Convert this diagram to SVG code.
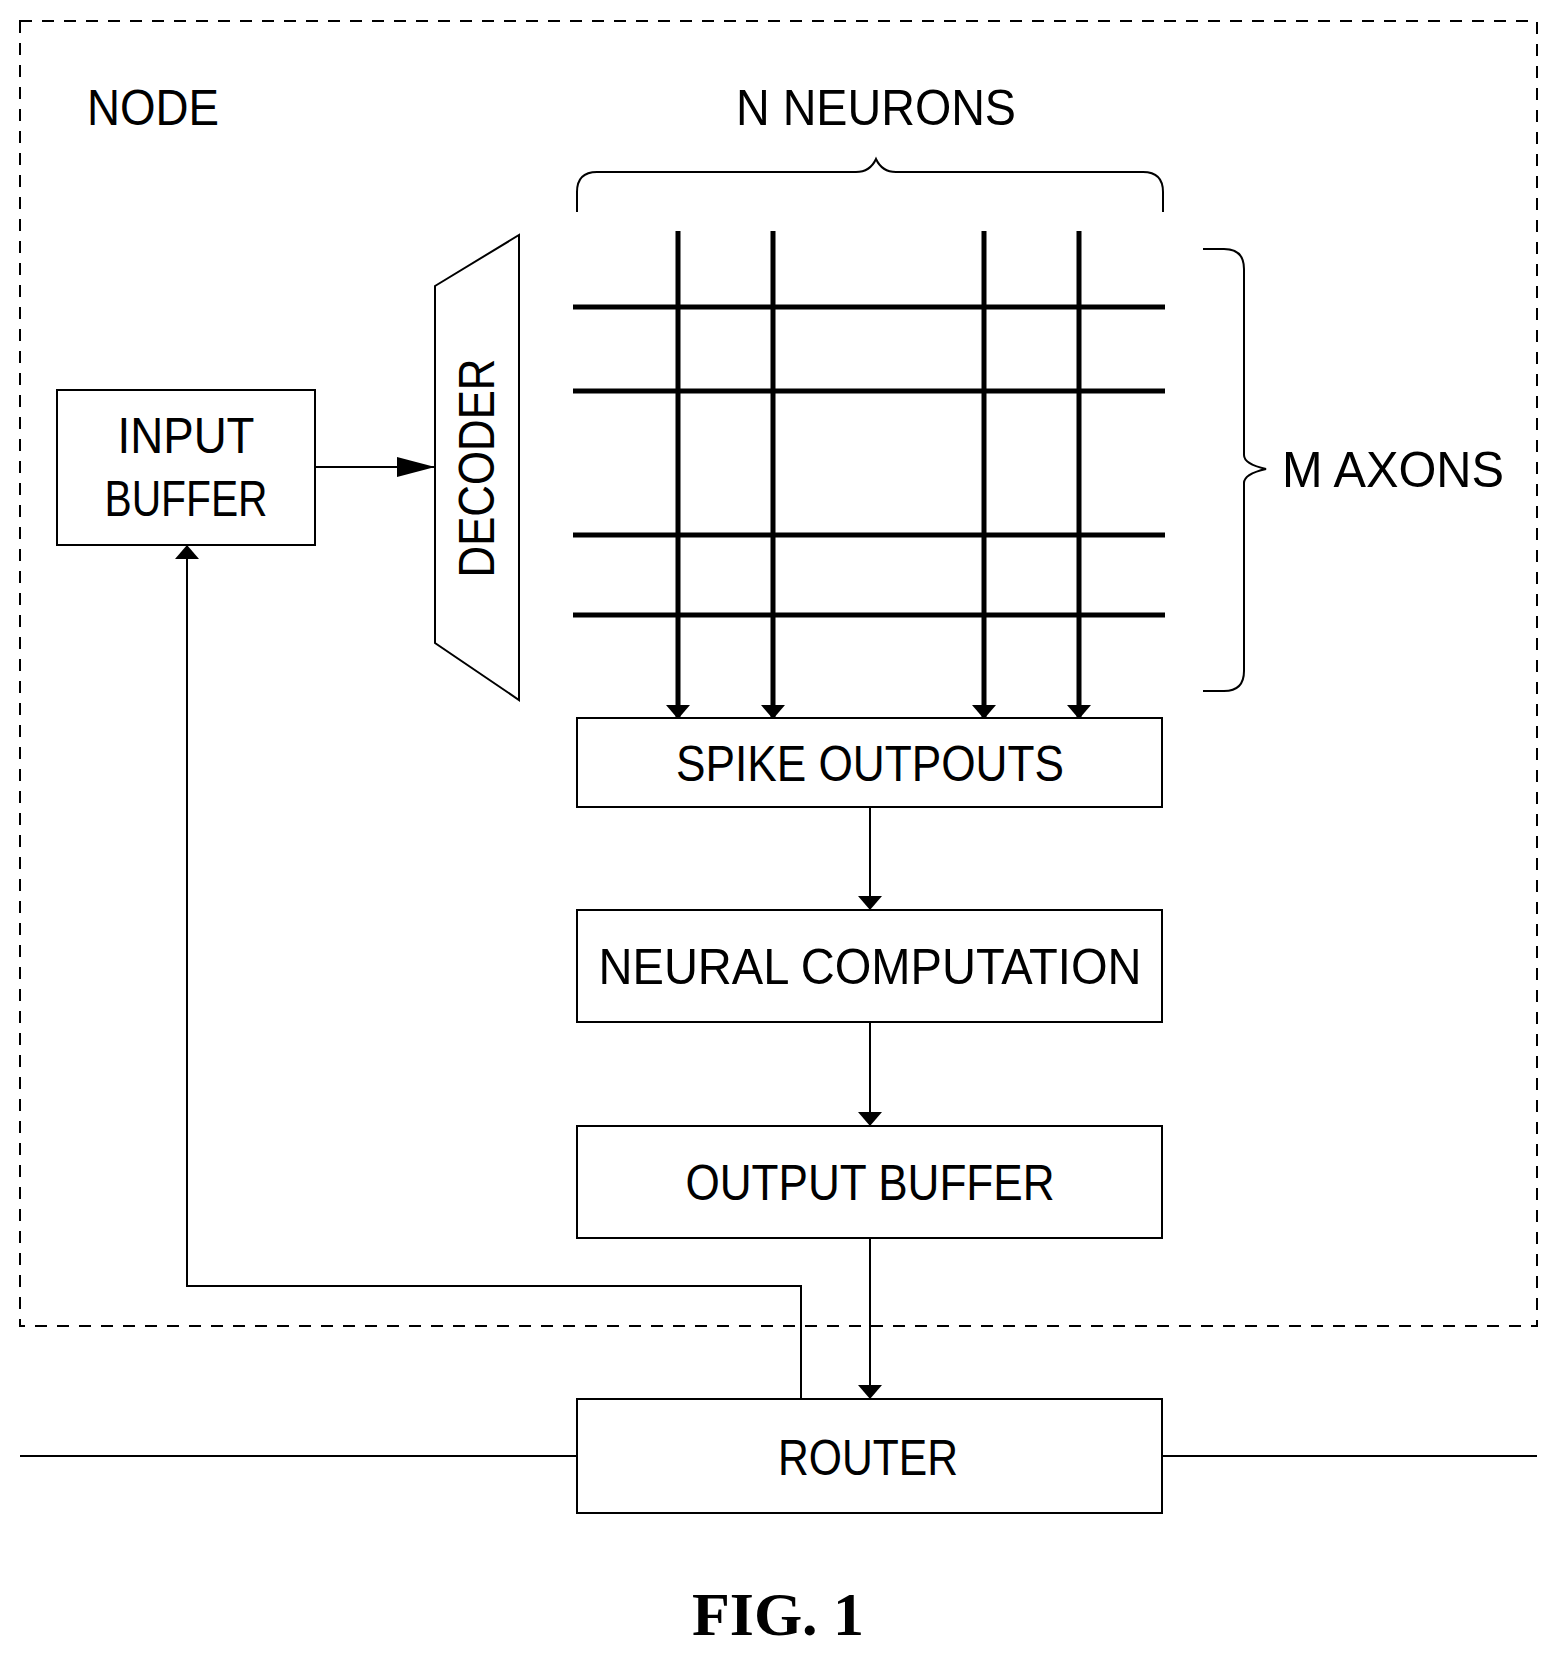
<svg xmlns="http://www.w3.org/2000/svg" width="1558" height="1656" viewBox="0 0 1558 1656">
<defs>
<marker id="a" markerWidth="10" markerHeight="10" refX="10" refY="5" orient="auto" markerUnits="userSpaceOnUse" viewBox="0 0 10 10"><path d="M0,0 L10,5 L0,10 z" fill="#000"/></marker>
<marker id="b" viewBox="0 0 10 10" refX="10" refY="5" markerWidth="14" markerHeight="24" orient="auto" markerUnits="userSpaceOnUse" preserveAspectRatio="none"><path d="M0,0 L10,5 L0,10 z" fill="#000"/></marker>
<marker id="c" viewBox="0 0 10 10" refX="10" refY="5" markerWidth="38" markerHeight="20" orient="auto" markerUnits="userSpaceOnUse" preserveAspectRatio="none"><path d="M0,0 L10,5 L0,10 z" fill="#000"/></marker>
</defs>
<style>
text{font-family:"Liberation Sans",Arial,sans-serif;font-size:50px;fill:#000}
.box{fill:#fff;stroke:#000;stroke-width:2}
.ln{stroke:#000;stroke-width:2;fill:none}
.thick{stroke:#000;stroke-width:5;fill:none}
</style>
<rect width="1558" height="1656" fill="#fff"/>
<rect x="20" y="21" width="1517" height="1305" fill="none" stroke="#000" stroke-width="2" stroke-dasharray="12,10"/>
<text x="87" y="125" textLength="132" lengthAdjust="spacingAndGlyphs">NODE</text>
<text x="736" y="125" textLength="280" lengthAdjust="spacingAndGlyphs">N NEURONS</text>
<path class="ln" d="M577,212 V192 Q577,172 597,172 H856 Q870,172 876,159 Q882,172 896,172 H1143 Q1163,172 1163,192 V212"/>
<path class="ln" d="M1203,249 H1224 Q1244,249 1244,269 V455 Q1244,464 1266,469 Q1244,474 1244,483 V671 Q1244,691 1224,691 H1203"/>
<text x="1282" y="487" textLength="222" lengthAdjust="spacingAndGlyphs">M AXONS</text>
<g id="grid">
<path class="thick" d="M573,307 H1165 M573,391 H1165 M573,535 H1165 M573,615 H1165"/>
</g>
<g id="connectors">
<line class="thick" x1="678" y1="231" x2="678" y2="719" marker-end="url(#b)"/>
<line class="thick" x1="773" y1="231" x2="773" y2="719" marker-end="url(#b)"/>
<line class="thick" x1="984" y1="231" x2="984" y2="719" marker-end="url(#b)"/>
<line class="thick" x1="1079" y1="231" x2="1079" y2="719" marker-end="url(#b)"/>
<line class="ln" x1="315" y1="467" x2="435" y2="467" marker-end="url(#c)"/>
<line class="ln" x1="870" y1="807" x2="870" y2="910" marker-end="url(#b)"/>
<line class="ln" x1="870" y1="1022" x2="870" y2="1126" marker-end="url(#b)"/>
<line class="ln" x1="870" y1="1238" x2="870" y2="1399" marker-end="url(#b)"/>
<polyline class="ln" points="801,1399 801,1286 187,1286 187,545" marker-end="url(#b)"/>
<line class="ln" x1="20" y1="1456" x2="577" y2="1456"/>
<line class="ln" x1="1162" y1="1456" x2="1537" y2="1456"/>
</g>
<g id="decoder">
<polygon class="box" points="435,286 519,235 519,700 435,643"/>
<text transform="translate(494,468) rotate(-90)" text-anchor="middle" textLength="219" lengthAdjust="spacingAndGlyphs">DECODER</text>
</g>
<g id="input-buffer">
<rect class="box" x="57" y="390" width="258" height="155"/>
<text x="186" y="453" text-anchor="middle" textLength="137" lengthAdjust="spacingAndGlyphs">INPUT</text>
<text x="186" y="516" text-anchor="middle" textLength="163" lengthAdjust="spacingAndGlyphs">BUFFER</text>
</g>
<g id="spike-outputs">
<rect class="box" x="577" y="718" width="585" height="89"/>
<text x="870" y="781" text-anchor="middle" textLength="388" lengthAdjust="spacingAndGlyphs">SPIKE OUTPOUTS</text>
</g>
<g id="neural-computation">
<rect class="box" x="577" y="910" width="585" height="112"/>
<text x="870" y="984" text-anchor="middle" textLength="543" lengthAdjust="spacingAndGlyphs">NEURAL COMPUTATION</text>
</g>
<g id="output-buffer">
<rect class="box" x="577" y="1126" width="585" height="112"/>
<text x="870" y="1200" text-anchor="middle" textLength="369" lengthAdjust="spacingAndGlyphs">OUTPUT BUFFER</text>
</g>
<g id="router">
<rect class="box" x="577" y="1399" width="585" height="114"/>
<text x="868" y="1475" text-anchor="middle" textLength="180" lengthAdjust="spacingAndGlyphs">ROUTER</text>
</g>
<text x="778" y="1635" text-anchor="middle" style="font-family:'Liberation Serif','Times New Roman',serif;font-weight:bold;font-size:62px">FIG. 1</text>
</svg>
